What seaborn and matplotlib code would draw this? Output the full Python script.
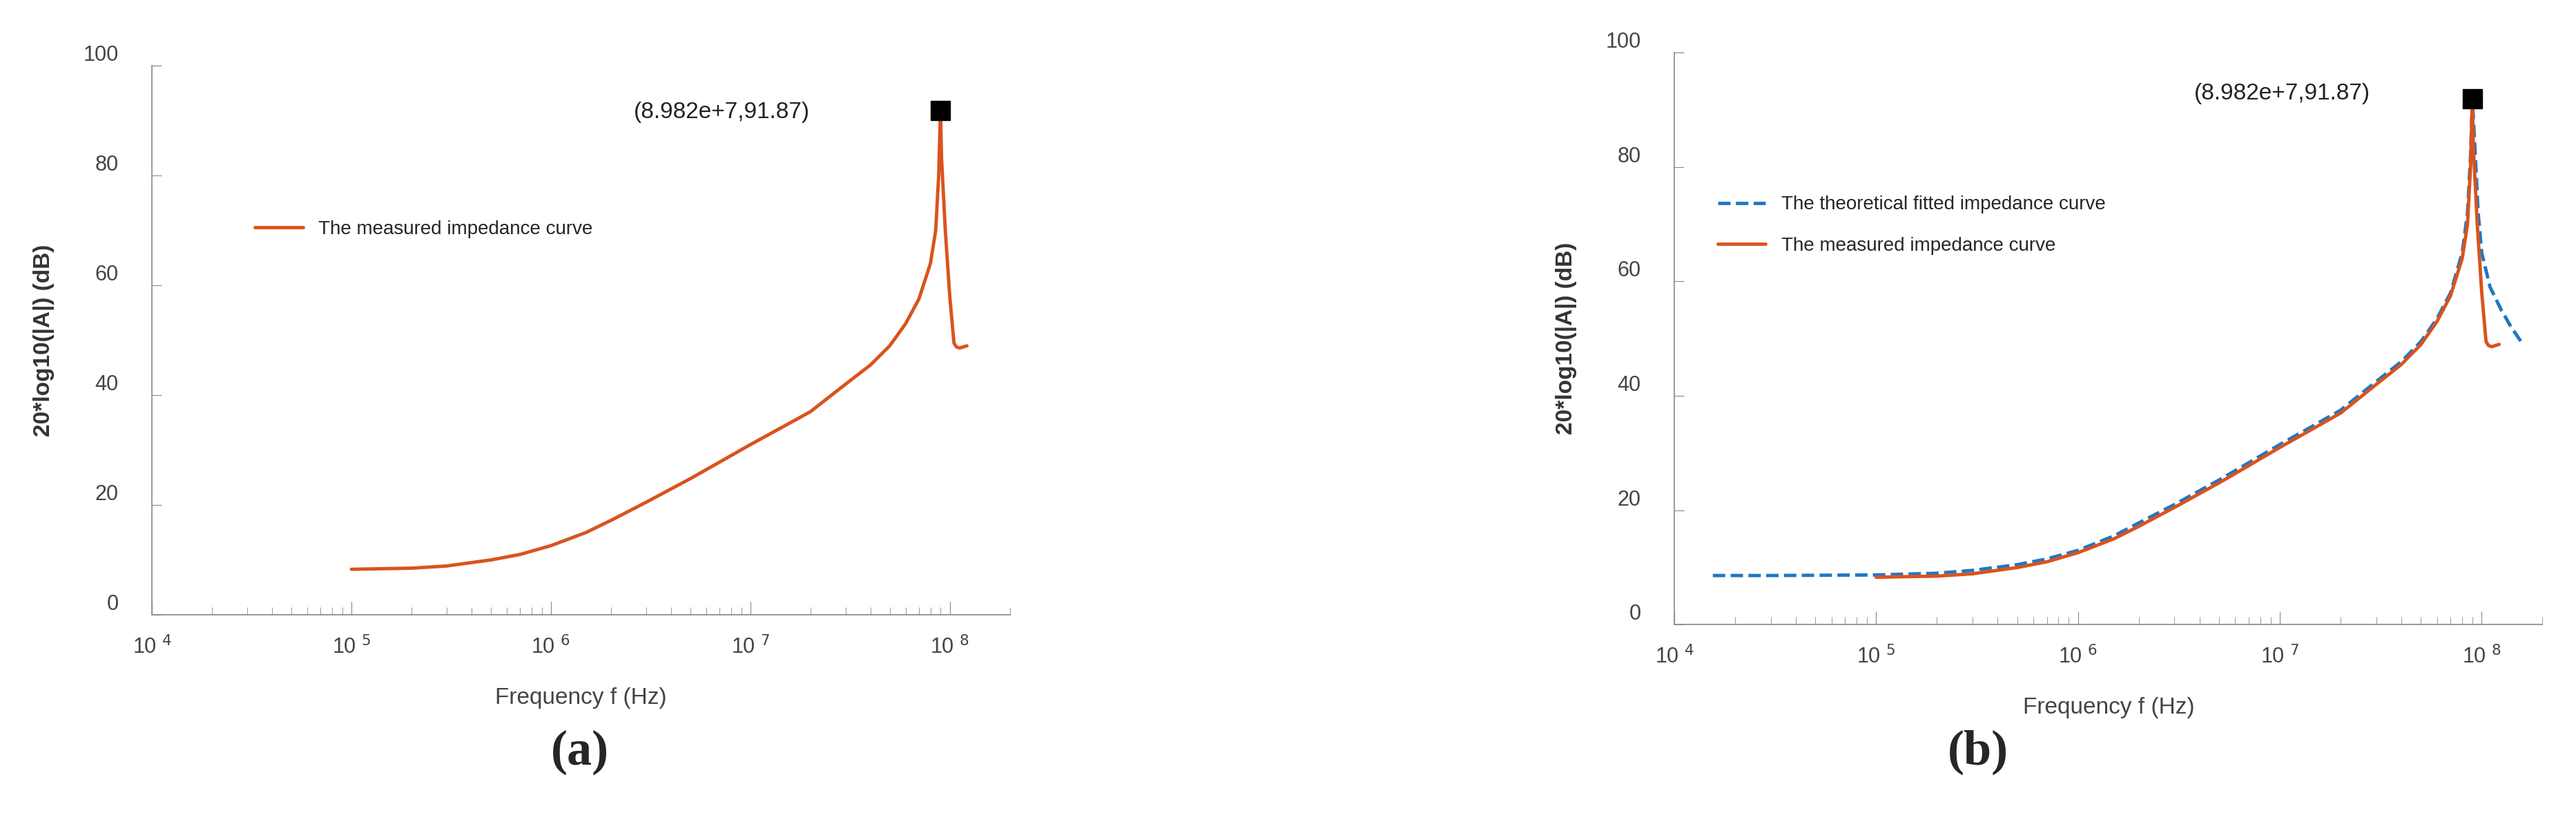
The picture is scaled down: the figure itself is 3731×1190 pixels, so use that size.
import numpy as np
import matplotlib.pyplot as plt
import seaborn as sns

sns.set_style("white")
plt.rcParams['font.family'] = ['Liberation Sans', 'DejaVu Sans']

# measured impedance curve
meas_f = [1e5, 2e5, 3e5, 5e5, 7e5, 1e6, 1.5e6, 2e6, 3e6, 5e6, 7e6, 1e7, 1.5e7, 2e7, 3e7,
          4e7, 5e7, 6e7, 7e7, 8e7, 8.5e7, 8.8e7, 8.982e7, 9.1e7, 9.5e7, 1.0e8, 1.05e8, 1.08e8, 1.12e8, 1.22e8]
meas_db = [8.3, 8.5, 8.9, 10.0, 11.0, 12.6, 15.0, 17.2, 20.5, 24.8, 27.8, 31.0, 34.5, 37.0, 42.0,
           45.5, 49.0, 53.0, 57.5, 64.0, 70.0, 80.0, 91.87, 83.0, 70.0, 58.0, 49.5, 48.8, 48.6, 49.0]

# theoretical fitted impedance curve
fit_f = [1.55e4, 3e4, 1e5, 2e5, 3e5, 5e5, 7e5, 1e6, 1.5e6, 2e6, 3e6, 5e6, 7e6, 1e7, 1.5e7, 2e7,
         3e7, 4e7, 5e7, 6e7, 7e7, 8e7, 8.5e7, 8.8e7, 8.982e7, 9.2e7, 9.6e7, 1.0e8, 1.1e8, 1.25e8, 1.4e8, 1.6e8]
fit_db = [8.6, 8.6, 8.7, 9.0, 9.5, 10.5, 11.5, 13.0, 15.5, 17.8, 21.0, 25.3, 28.3, 31.5, 35.0, 37.5,
          42.5, 46.0, 49.5, 53.5, 58.0, 65.0, 72.0, 82.0, 91.87, 85.0, 72.0, 65.0, 59.0, 55.0, 52.0, 49.0]

peak = (8.982e7, 91.87)
orange = "#d9531e"
blue = "#1f77c4"
gray = "#444444"

fig = plt.figure(figsize=(37.31, 11.90), dpi=100)
ax_a = fig.add_axes([0.059, 0.252, 0.333, 0.668])
ax_b = fig.add_axes([0.650, 0.240, 0.337, 0.696])


def style(ax, xmax):
    ax.set_xscale("log")
    ax.set_xlim(1e4, xmax)
    ax.set_ylim(0, 100)
    sns.despine(ax=ax)
    for s in ["left", "bottom"]:
        ax.spines[s].set_color("#888888")
        ax.spines[s].set_linewidth(1.2)
    ax.set_yticks([0, 20, 40, 60, 80, 100])
    ax.set_xticks([1e4, 1e5, 1e6, 1e7, 1e8])
    ax.set_xticklabels([r"10 $^{%d}$" % e for e in range(4, 9)])
    ax.tick_params(axis="both", which="both", direction="in", colors="#888888",
                   labelcolor=gray, labelsize=22, pad=22, bottom=True, left=True)
    ax.tick_params(axis="x", which="major", length=14)
    ax.tick_params(axis="x", which="minor", length=8)
    ax.tick_params(axis="y", length=10, pad=35)
    for t in ax.get_yticklabels():
        t.set_verticalalignment("bottom")
    ax.set_xlabel("Frequency f (Hz)", fontsize=24, color=gray, labelpad=30)
    ax.set_ylabel("20*log10(|A|) (dB)", fontsize=24, color="#333333", labelpad=30,
                  fontweight="bold")
    ax.plot(*peak, "s", color="black", markersize=20, zorder=5)


sns.lineplot(x=meas_f, y=meas_db, ax=ax_a, color=orange, linewidth=3.5,
             label="The measured impedance curve", sort=False)
style(ax_a, 2e8)
ax_a.annotate("(8.982e+7,91.87)", peak, xytext=(-320, -2), textcoords="offset points",
              fontsize=24, color="#222222", va="center")
ax_a.legend(loc="upper left", bbox_to_anchor=(0.1, 0.75), frameon=False, fontsize=20,
            handlelength=2.5)
fig.text(0.225, 0.07, "(a)", fontsize=52, family="Liberation Serif", weight="bold", ha="center")

sns.lineplot(x=fit_f, y=fit_db, ax=ax_b, color=blue, linewidth=3.5, linestyle="--",
             label="The theoretical fitted impedance curve", sort=False)
sns.lineplot(x=meas_f, y=meas_db, ax=ax_b, color=orange, linewidth=3.5,
             label="The measured impedance curve", sort=False)
style(ax_b, 2e8)
ax_b.annotate("(8.982e+7,91.87)", peak, xytext=(-290, 6), textcoords="offset points",
              fontsize=24, color="#222222", va="center")
ax_b.legend(loc="upper left", bbox_to_anchor=(0.03, 0.78), frameon=False, fontsize=20,
            handlelength=2.5, labelspacing=1.2)
fig.text(0.768, 0.07, "(b)", fontsize=52, family="Liberation Serif", weight="bold", ha="center")

fig.savefig("out.png", dpi=100)
